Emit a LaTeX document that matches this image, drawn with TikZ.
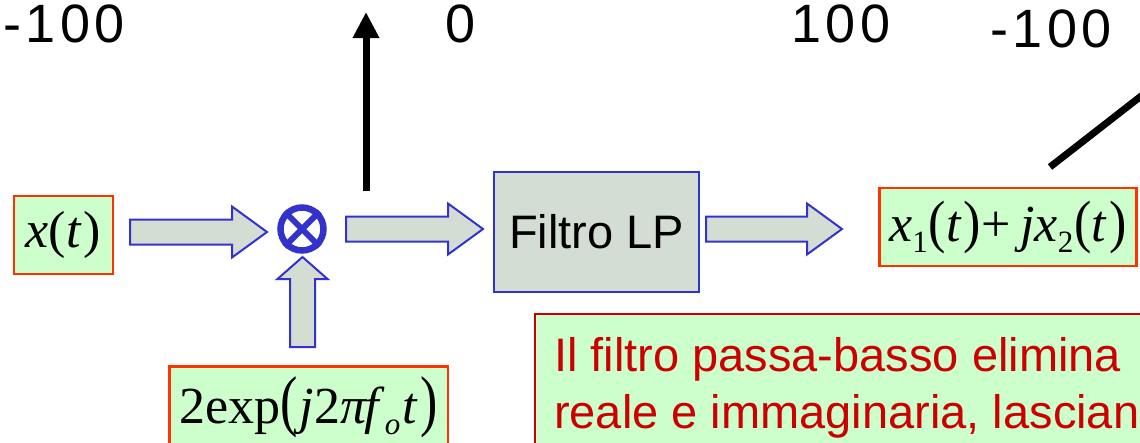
\documentclass[tikz,border=0pt]{standalone}
\usepackage{fontspec}
\usepackage{graphicx}
\setmainfont{Liberation Sans}
\newfontfamily\mathserif{Liberation Serif}
\usetikzlibrary{calc,arrows.meta}

\definecolor{sigfill}{HTML}{CCFFCC}
\definecolor{sigline}{HTML}{FF3300}
\definecolor{notered}{HTML}{CC0000}
\definecolor{flowblue}{HTML}{3333CC}
\definecolor{flowfill}{HTML}{D4DDD4}

% formula helpers (serif italic, upright digits and brackets)
\newcommand\fml[1]{{\mathserif\fontsize{52}{52}\selectfont #1}}
\newcommand\iv[1]{\textit{#1}}
\newcommand\sub[1]{\raisebox{-11pt}{\fontsize{31}{31}\selectfont #1}}
\newcommand\tallp[2]{\raisebox{0pt}{\scalebox{1}[#1]{#2}}}

\begin{document}
\begin{tikzpicture}[x=1pt,y=-1pt,
  sigbox/.style={draw=sigline, fill=sigfill, line width=2.5pt, inner sep=0pt, rectangle},
  procbox/.style={draw=flowblue, fill=flowfill, line width=2pt, inner sep=0pt, rectangle,
    font=\fontsize{47}{47}\selectfont},
  notebox/.style={draw=notered, fill=sigfill, line width=2pt},
  notetext/.style={anchor=base west, inner sep=0pt, text=notered, font=\fontsize{47}{47}\selectfont},
  ticklabel/.style={anchor=base west, inner sep=0pt, font=\fontsize{54}{54}\selectfont},
  shaft/.store in=\shw, head/.store in=\hdw, headlen/.store in=\hdl,
  shaft=12.5pt, head=25.5pt, headlen=35pt,
  blockarrow/.style={draw=flowblue, fill=flowfill, line width=2pt, line join=miter,
    to path={
      ($(\tikztostart)!\shw!90:(\tikztotarget)$)
      -- ($(\tikztotarget)!\hdl!(\tikztostart)!\shw!-90:(\tikztostart)$)
      -- ($(\tikztotarget)!\hdl!(\tikztostart)!\hdw!-90:(\tikztostart)$)
      -- (\tikztotarget)
      -- ($(\tikztotarget)!\hdl!(\tikztostart)!\hdw!90:(\tikztostart)$)
      -- ($(\tikztotarget)!\hdl!(\tikztostart)!\shw!90:(\tikztostart)$)
      -- ($(\tikztostart)!\shw!-90:(\tikztotarget)$)
      -- cycle}},
  thick stroke/.style={line width=7pt, draw=black}
]
\useasboundingbox (0,0) rectangle (1140,442);
\clip (0,0) rectangle (1140,442);

% axis tick labels along the top
\node[ticklabel] (tA) at (3,42)   {-\kern4.5pt1\kern4.5pt0\kern4.5pt0};
\node[ticklabel] (tB) at (445,42) {0};
\node[ticklabel] (tC) at (791,42) {1\kern4.5pt0\kern4.5pt0};
\node[ticklabel] (tD) at (990,47) {-\kern4.5pt1\kern4.5pt0\kern4.5pt0};

% spectral line and slanted segment
\coordinate (up0) at (366,191);
\coordinate (up1) at (366,12);
\draw[thick stroke, -{Triangle[length=26pt,width=25pt]}] (up0) -- (up1);
\coordinate (d0) at (1050,167);
\coordinate (d1) at (1190,58);
\draw[thick stroke] (d0) -- (d1);

% input signal
\node[sigbox, minimum width=99, minimum height=78] (xt) at (63.5,235)
  {\fml{\iv{x}(\iv{t}\kern2pt)}};

% mixer
\node[circle, draw=flowblue, line width=6.5pt, minimum size=43, inner sep=0pt] (mix) at (302,229) {};
\draw[flowblue, line width=6pt] (mix.north west) -- (mix.south east);
\draw[flowblue, line width=6pt] (mix.north east) -- (mix.south west);

% low-pass filter
\node[procbox, minimum width=205, minimum height=120] (filt) at (596.5,232) {Filtro LP};

% output signal
\node[sigbox, anchor=west, minimum height=78, inner xsep=10pt] (xout) at (878,227)
  {\fml{\iv{x}\sub{1}\kern1pt\tallp{1.12}{(}\iv{t}\kern2pt\tallp{1.12}{)}\kern1pt+\kern9pt\iv{jx}\sub{2}\kern1pt\tallp{1.12}{(}\iv{t}\kern2pt\tallp{1.12}{)}\hspace{40pt}}};

% local oscillator
\node[sigbox, anchor=north west, minimum height=82, inner xsep=10pt] (lo) at (168,365)
  {\fml{2exp\tallp{1.3}{(}\kern2pt\iv{j}2\iv{\char"03C0}\kern-3pt\iv{f}\sub{\iv{o}}\kern2pt\iv{t}\kern3pt\tallp{1.3}{)}}};

% note
\node[notebox, anchor=north west, minimum width=700, minimum height=170, inner sep=0pt] (note) at (534,313) {};
\node[notetext] (note1) at (554,371) {Il filtro passa-basso elimina};
\node[notetext] (note2) at (554,428) {reale e immaginaria, lasciando};

% block arrows between the stages
\coordinate (a1s) at (130,232);
\coordinate (a1e) at (267,232);
\coordinate (a2s) at (346,229);
\coordinate (a2e) at (483,229);
\coordinate (a3s) at (706,229);
\coordinate (a3e) at (842,229);
\coordinate (a4s) at (302.5,347);
\coordinate (a4e) at (302.5,257);
\draw[blockarrow] (a1s) to (a1e);
\draw[blockarrow] (a2s) to (a2e);
\draw[blockarrow] (a3s) to (a3e);
\draw[blockarrow, head=25pt, headlen=22pt] (a4s) to (a4e);
\end{tikzpicture}
\end{document}
